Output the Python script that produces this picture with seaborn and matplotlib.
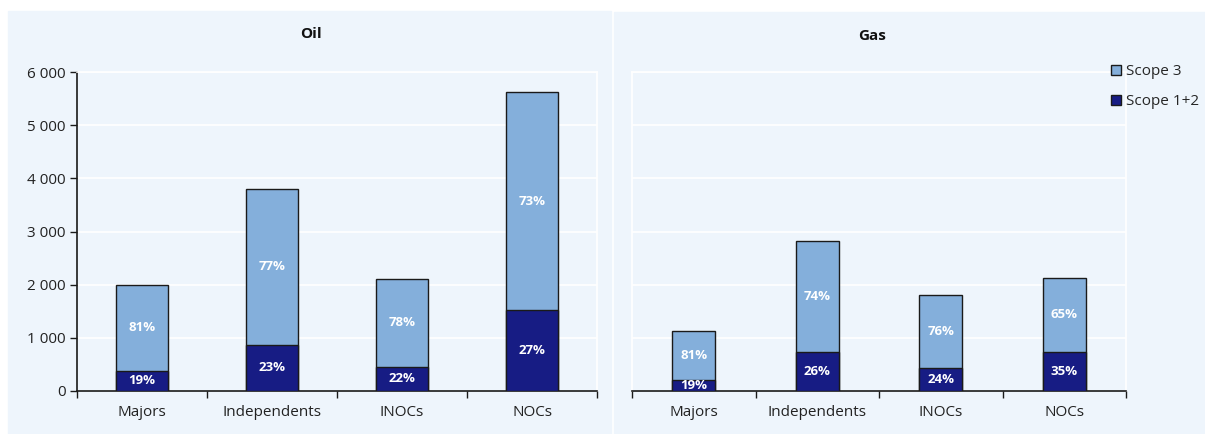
import matplotlib
matplotlib.use("Agg")
import matplotlib.pyplot as plt
import matplotlib.patches as mpatches
import seaborn as sns
import pandas as pd

categories = ["Majors", "Independents", "INOCs", "NOCs"]
oil_scope12 = [380, 870, 460, 1520]
oil_scope3 = [1620, 2930, 1640, 4100]
oil_pct12 = ["19%", "23%", "22%", "27%"]
oil_pct3 = ["81%", "77%", "78%", "73%"]
gas_scope12 = [210, 730, 430, 740]
gas_scope3 = [910, 2090, 1370, 1380]
gas_pct12 = ["19%", "26%", "24%", "35%"]
gas_pct3 = ["81%", "74%", "76%", "65%"]
yticks = [0, 1000, 2000, 3000, 4000, 5000, 6000]
ytick_labels = ["0", "1 000", "2 000", "3 000", "4 000", "5 000", "6 000"]

C3 = "#84AFDB"
C12 = "#171C84"
BG = "#EEF5FC"

sns.set_theme(style="white")
plt.rcParams["font.family"] = ["Open Sans", "DejaVu Sans"]

W, H = 1205, 434
fig = plt.figure(figsize=(W / 100, H / 100), dpi=100)
fig.patch.set_facecolor("white")

# panel backgrounds
fig.add_artist(mpatches.Rectangle((8 / W, 0), (611 - 8) / W, (434 - 11) / H,
                                  transform=fig.transFigure, color=BG, zorder=0))
fig.add_artist(mpatches.Rectangle((614 / W, 0), (1205 - 614) / W, (434 - 12) / H,
                                  transform=fig.transFigure, color=BG, zorder=0))

def make_ax(x0, x1):
    y0, y1 = 72, 391
    return fig.add_axes([x0 / W, 1 - y1 / H, (x1 - x0) / W, (y1 - y0) / H])

ax1 = make_ax(77, 597)
ax2 = make_ax(632, 1126)

def draw(ax, s12, s3, p12, p3, width, show_y):
    total = [a + b for a, b in zip(s12, s3)]
    df = pd.DataFrame({"cat": categories, "total": total, "s12": s12})
    ax.set_facecolor("none")
    sns.barplot(data=df, x="cat", y="total", color=C3, width=width,
                edgecolor="#1a1a1a", linewidth=1.0, saturation=1, ax=ax, zorder=3)
    sns.barplot(data=df, x="cat", y="s12", color=C12, width=width,
                edgecolor="#1a1a1a", linewidth=1.0, saturation=1, ax=ax, zorder=3)
    for i in range(len(categories)):
        ax.text(i, s12[i] / 2, p12[i], ha="center", va="center", color="white",
                fontsize=9.5, fontweight="bold", zorder=5)
        ax.text(i, s12[i] + s3[i] / 2, p3[i], ha="center", va="center", color="white",
                fontsize=9.5, fontweight="bold", zorder=5)
    ax.set_ylim(0, 6000)
    ax.set_xlim(-0.5, len(categories) - 0.5)
    ax.set_yticks(yticks)
    ax.yaxis.grid(True, color="white", linewidth=1.2, zorder=0)
    ax.set_axisbelow(True)
    ax.set_xlabel("")
    ax.set_ylabel("")
    ax.set_xticks(range(len(categories)))
    ax.set_xticklabels(categories, fontsize=11, color="#222222")
    ax.tick_params(axis="x", which="major", length=0, pad=10)
    ax.set_xticks([i - 0.5 for i in range(len(categories) + 1)], minor=True)
    ax.tick_params(axis="x", which="minor", length=5, width=1, color="#1a1a1a",
                   direction="out", bottom=True)
    for s in ["top", "right"]:
        ax.spines[s].set_color("white")
        ax.spines[s].set_linewidth(1.2)
    ax.spines["bottom"].set_color("#1a1a1a")
    ax.spines["bottom"].set_linewidth(1.2)
    if show_y:
        ax.spines["left"].set_color("#1a1a1a")
        ax.spines["left"].set_linewidth(1.2)
        ax.set_yticklabels(ytick_labels, fontsize=11, color="#222222")
        ax.tick_params(axis="y", length=5, width=1, color="#1a1a1a", left=True,
                       direction="out", pad=3)
    else:
        ax.spines["left"].set_color("white")
        ax.spines["left"].set_linewidth(1.2)
        ax.set_yticklabels([])
        ax.tick_params(axis="y", length=0)

draw(ax1, oil_scope12, oil_scope3, oil_pct12, oil_pct3, 0.4, True)
draw(ax2, gas_scope12, gas_scope3, gas_pct12, gas_pct3, 0.35, False)

fig.text(311 / W, 1 - 34 / H, "Oil", ha="center", va="center", fontsize=11,
         fontweight="bold", color="#111111")
fig.text(872 / W, 1 - 36 / H, "Gas", ha="center", va="center", fontsize=11,
         fontweight="bold", color="#111111")

handles = [mpatches.Patch(facecolor=C3, edgecolor="#1a1a1a", linewidth=1, label="Scope 3"),
           mpatches.Patch(facecolor=C12, edgecolor="#1a1a1a", linewidth=1, label="Scope 1+2")]
fig.legend(handles=handles, loc="upper left", bbox_to_anchor=(1111 / W, 1 - 64 / H),
           frameon=False, fontsize=11, handlelength=0.65, handleheight=0.65,
           handletextpad=0.3, labelspacing=1.0, borderaxespad=0, borderpad=0)

fig.savefig("out.png", dpi=100, facecolor="white")
